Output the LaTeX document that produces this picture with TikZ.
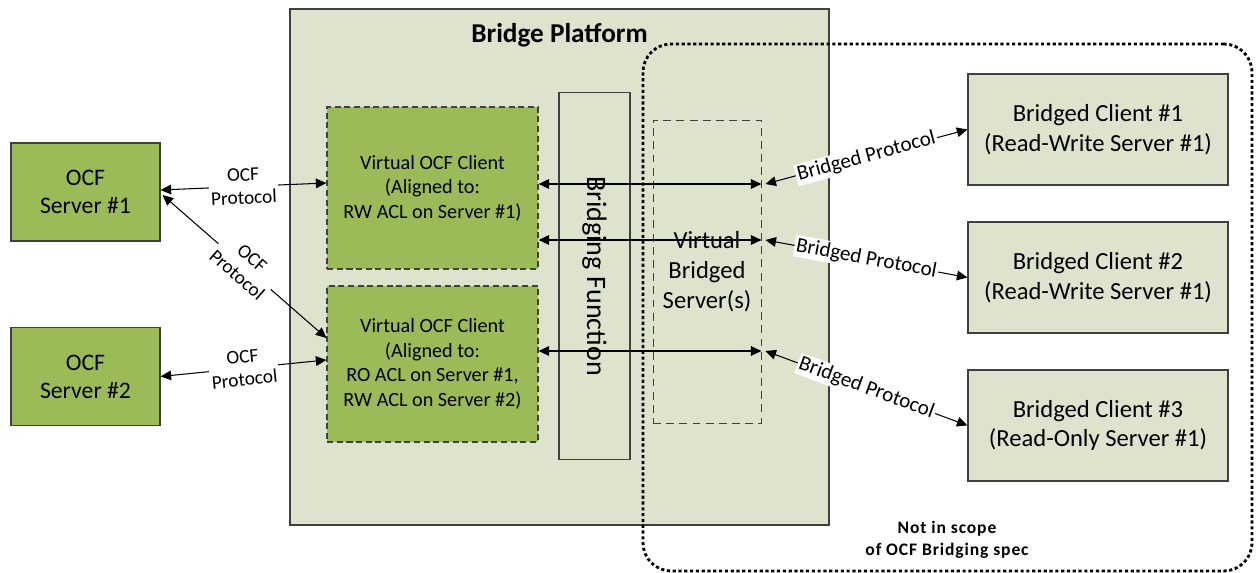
\documentclass[tikz,border=0pt]{standalone}
\usepackage{fontspec}
\setmainfont{Carlito}
\usepackage{xcolor}
\usepackage{tikz}
\usetikzlibrary{calc, arrows.meta}
\definecolor{ocfgreen}{RGB}{155,187,89}
\definecolor{platgreen}{RGB}{221,227,205}
\definecolor{edgegray}{RGB}{64,64,64}
\tikzstyle{server}   = [rectangle, minimum width=2.98cm, minimum height=1.96cm, align=center, draw=edgegray, line width=0.7pt, fill=ocfgreen, font=\fontsize{13.5}{16}\selectfont]
\tikzstyle{vclient}  = [rectangle, minimum width=4.22cm, align=center, draw=edgegray, dash pattern=on 3.5pt off 2pt, line width=0.7pt, fill=ocfgreen, font=\fontsize{11.5}{14}\selectfont]
\tikzstyle{platform} = [rectangle, minimum width=10.78cm, minimum height=10.32cm, draw=edgegray, line width=0.9pt, fill=platgreen]
\tikzstyle{bridgefn} = [rectangle, minimum width=7.36cm, minimum height=1.42cm, draw=edgegray, line width=0.6pt, font=\fontsize{16}{19}\selectfont]
\tikzstyle{vserver}  = [rectangle, minimum width=2.16cm, minimum height=6.06cm, align=center, draw=edgegray, dash pattern=on 4.5pt off 3pt, line width=0.5pt, font=\fontsize{14}{17}\selectfont]
\tikzstyle{bclient}  = [rectangle, minimum width=5.2cm, minimum height=2.22cm, align=center, draw=edgegray, line width=0.7pt, fill=platgreen, font=\fontsize{14}{17}\selectfont]
\tikzstyle{scopebox} = [rectangle, rounded corners=0.56cm, minimum width=12.18cm, minimum height=10.54cm, draw=black, line width=1.6pt, dash pattern=on 1.8pt off 1.5pt]
\tikzstyle{arrow}    = [line width=0.6pt, <->, >={Triangle[length=6pt, width=5.5pt]}]
\tikzstyle{ocfproto} = [sloped, midway, fill=white, align=center, inner sep=1pt, font=\fontsize{11}{13}\selectfont]
\tikzstyle{bproto}   = [sloped, midway, fill=white, inner sep=1pt, font=\fontsize{12}{14}\selectfont]

\begin{document}
\begin{tikzpicture}[x=0.02cm, y=-0.02cm]
    \useasboundingbox (0,0) rectangle (1256,573);

    \node (plat)  [platform] at (559.5,267) {};
    \node (title) [font=\bfseries\fontsize{15.5}{18}\selectfont] at (559.5,35) {Bridge Platform};

    \node (srv1) [server] at (85.5,192) {OCF\\Server \#1};
    \node (srv2) [server, node distance=3.69cm, below of=srv1] {OCF\\Server \#2};

    \node (vcl1) [vclient, minimum height=3.24cm] at (432.5,188) {Virtual OCF Client\\(Aligned to:\\RW ACL on Server \#1)};
    \node (vcl2) [vclient, minimum height=3.12cm] at (432.5,364) {Virtual OCF Client\\(Aligned to:\\RO ACL on Server \#1,\\RW ACL on Server \#2)};

    \node (bfn) [bridgefn, rotate=-90] at (594.5,276) {Bridging Function};
    \node (vbs) [vserver] at (707,271.5) {Virtual\\Bridged\\Server(s)};

    \node (bcl1) [bclient] at (1098,129.5) {Bridged Client \#1\\(Read-Write Server \#1)};
    \node (bcl2) [bclient, node distance=2.96cm, below of=bcl1] {Bridged Client \#2\\(Read-Write Server \#1)};
    \node (bcl3) [bclient, node distance=2.96cm, below of=bcl2] {Bridged Client \#3\\(Read-Only Server \#1)};

    \node (scope) [scopebox] at (947.5,307.5) {};
    \node (note) [align=center, font=\bfseries\fontsize{10}{12.5}\selectfont\addfontfeatures{LetterSpace=5}] at (947,540) {Not in scope\\of OCF Bridging spec};

    % OCF side
    \draw [arrow] ($(srv1.east)+(0,-2)$) -- ($(vcl1.west)+(0,-5)$) node [ocfproto] {OCF\\Protocol};
    \draw [arrow] ($(srv1.east)+(2,3)$)  -- ($(vcl2.west)+(0,-26)$) node [ocfproto] {OCF\\Protocol};
    \draw [arrow] (srv2.east) -- ($(vcl2.west)+(0,-4)$) node [ocfproto] {OCF\\Protocol};

    % through the bridging function
    \draw [arrow] ($(vcl1.east)+(0,-4)$) -- ($(vcl1.east -| vbs.east)+(0,-4)$);
    \draw [arrow] ($(vcl1.east)+(0,52)$) -- ($(vcl1.east -| vbs.east)+(0,52)$);
    \draw [arrow] ($(vcl2.east)+(0,-13)$) -- ($(vcl2.east -| vbs.east)+(0,-13)$);

    % bridged side
    \draw [arrow] ($(vcl1.east -| vbs.east)+(4,-4)$) -- (bcl1.west) node [bproto] {Bridged Protocol};
    \draw [arrow] ($(vcl1.east -| vbs.east)+(4,52)$) -- (bcl2.west) node [bproto] {Bridged Protocol};
    \draw [arrow] ($(vcl2.east -| vbs.east)+(4,-13)$) -- (bcl3.west) node [bproto] {Bridged Protocol};
\end{tikzpicture}
\end{document}
